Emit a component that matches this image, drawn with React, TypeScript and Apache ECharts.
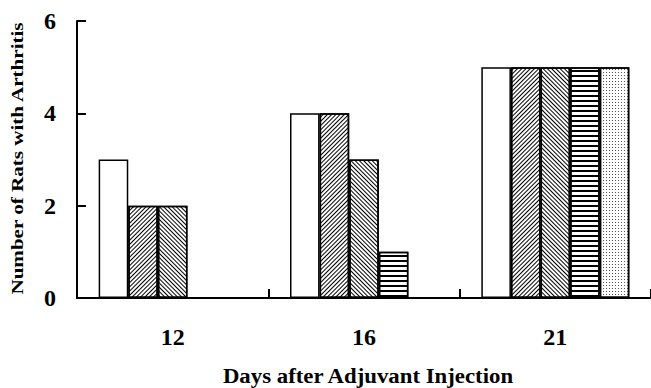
import React, { useEffect, useRef } from "react";
import * as echarts from "echarts";

const categories = ["12", "16", "21"];
const seriesWhite = [3, 4, 5];
const seriesHatchUp = [2, 4, 5];
const seriesHatchDown = [2, 3, 5];
const seriesHorizontal = [0, 1, 5];
const seriesDots = [0, 0, 5];
const yTicks = { min: 0, max: 6, interval: 2 };
const xTitle = "Days after Adjuvant Injection";
const yTitle = "Number of Rats with Arthritis";

const FONT = "'Liberation Serif', 'Times New Roman', serif";

export default function App() {
  const ref = useRef<HTMLDivElement>(null);
  useEffect(() => {
    if (!ref.current) return;
    const chart = echarts.init(ref.current, null, { renderer: "svg" });
    const border = { borderColor: "#000", borderWidth: 1.5 };
    const mk = (name: string, data: number[], decal: any) => ({
      name,
      type: "bar",
      data,
      barWidth: 29.6,
      barGap: "0%",
      itemStyle: { color: "#fff", ...border, ...(decal ? { decal } : {}) },
    });
    const diagUp = {
      symbol: "rect",
      symbolSize: 1,
      dashArrayX: [1, 0],
      dashArrayY: [1, 2],
      rotation: -Math.PI / 4,
      color: "#000",
    };
    const diagDown = { ...diagUp, rotation: Math.PI / 4 };
    const horiz = {
      symbol: "rect",
      symbolSize: 1,
      dashArrayX: [1, 0],
      dashArrayY: [1.5, 2.8],
      rotation: 0,
      color: "#000",
    };
    const dots = {
      symbol: "rect",
      symbolSize: 1,
      dashArrayX: [1, 2],
      dashArrayY: [1, 2],
      rotation: 0,
      color: "#555",
    };
    chart.setOption({
      animation: false,
      grid: { left: 77, top: 21, width: 582, height: 277 },
      xAxis: {
        type: "category",
        data: categories,
        axisLine: { lineStyle: { color: "#000", width: 2 } },
        axisTick: { show: true, interval: 0, inside: true, length: 9, lineStyle: { color: "#000", width: 2 } },
        axisLabel: { margin: 27, fontFamily: FONT, fontWeight: "bold", fontSize: 24, color: "#000" },
      },
      yAxis: {
        type: "value",
        ...yTicks,
        axisLine: { show: true, lineStyle: { color: "#000", width: 2 } },
        axisTick: { show: true, inside: true, length: 9, lineStyle: { color: "#000", width: 2 } },
        splitLine: { show: false },
        axisLabel: { margin: 21, fontFamily: FONT, fontWeight: "bold", fontSize: 24, color: "#000" },
      },
      graphic: [
        {
          type: "text",
          x: 368,
          y: 376,
          scaleX: 1.14,
          style: {
            text: xTitle,
            font: `bold 20px ${FONT}`,
            fill: "#000",
            align: "center",
            verticalAlign: "middle",
          },
        },
        {
          type: "text",
          x: 17,
          y: 158.5,
          rotation: Math.PI / 2,
          scaleX: 1.24,
          style: {
            text: yTitle,
            font: `bold 17px ${FONT}`,
            fill: "#000",
            align: "center",
            verticalAlign: "middle",
          },
        },
      ],
      series: [
        mk("A", seriesWhite, null),
        mk("B", seriesHatchUp, diagUp),
        mk("C", seriesHatchDown, diagDown),
        mk("D", seriesHorizontal, horiz),
        mk("E", seriesDots, dots),
      ],
    });
    return () => chart.dispose();
  }, []);
  return (
    <div
      ref={ref}
      style={{ position: "fixed", left: 0, top: 0, width: 651, height: 388, background: "#fff" }}
    />
  );
}
